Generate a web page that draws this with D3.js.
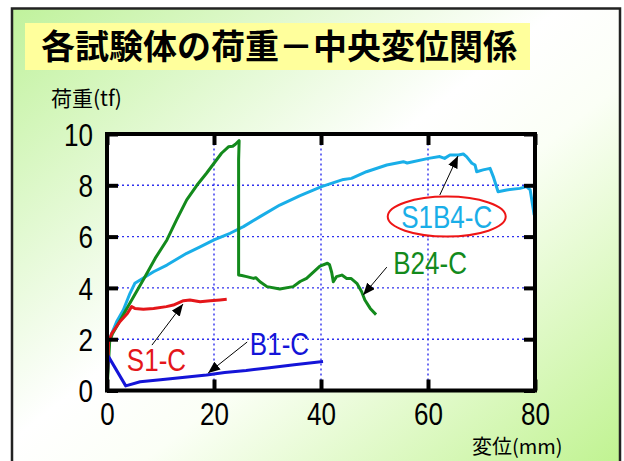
<!DOCTYPE html>
<html><head><meta charset="utf-8">
<script src="https://cdn.jsdelivr.net/npm/d3@7"></script>
<style>html,body{margin:0;padding:0;background:#fff;}svg{display:block;}</style>
</head><body>
<svg id="chart" width="624" height="461"></svg>
<script>
// ---- data ----
const xTicks = [0, 20, 40, 60, 80];
const yTicks = [0, 2, 4, 6, 8, 10];
const titleText = "各試験体の荷重－中央変位関係";
const yTitle = "荷重(tf)";
const xTitle = "変位(mm)";

const seriesNames = ["B24-C", "S1B4-C", "S1-C", "B1-C"];

const b24X = [0, 0.5, 1.0, 2.5, 4.0, 5.5, 7.0, 9.0, 11.2, 13.0, 14.9, 16.8, 18.6, 20.0, 21.4, 22.7, 23.5, 24.0, 24.7, 24.6, 24.6, 25.2, 26.1, 27.4, 27.8, 28.6, 29.9, 32.3, 34.8, 36.1, 37.3, 39.8, 41.2, 41.6, 42.0, 42.3, 42.9, 43.9, 44.8, 45.6, 46.7, 47.6, 48.2, 49.2, 50.1];
const b24Y = [0, 1.9, 2.2, 2.75, 3.3, 3.85, 4.4, 5.15, 5.87, 6.65, 7.43, 8.0, 8.47, 8.86, 9.25, 9.5, 9.52, 9.6, 9.74, 9.0, 4.5, 4.48, 4.44, 4.37, 4.4, 4.24, 4.05, 3.96, 4.05, 4.25, 4.37, 4.85, 4.96, 4.9, 4.6, 4.24, 4.44, 4.5, 4.37, 4.37, 4.18, 3.85, 3.53, 3.2, 3.0];

const s1b4X = [0, 0.3, 0.9, 1.8, 3.05, 4.3, 5.2, 6.2, 8.7, 11.2, 14.9, 17.4, 20, 23, 25.5, 28.6, 32.3, 36.1, 40.1, 44.2, 45.7, 48.5, 52.3, 55.4, 56.1, 60.1, 62.2, 63.1, 64.1, 65.7, 66.6, 67.2, 68.2, 68.8, 69.1, 70.3, 71.6, 72.2, 73.1, 74.7, 77.2, 78.4, 79.1, 79.7, 79.8];
const s1b4Y = [0, 1.9, 2.23, 2.68, 3.14, 3.79, 4.18, 4.31, 4.63, 4.89, 5.35, 5.6, 5.87, 6.13, 6.39, 6.78, 7.23, 7.6, 7.95, 8.23, 8.27, 8.53, 8.79, 8.92, 8.87, 9.05, 9.12, 9.05, 9.18, 9.18, 9.22, 9.12, 8.86, 8.79, 8.53, 8.6, 8.66, 8.34, 7.75, 7.82, 7.88, 7.95, 7.82, 7.04, 6.9];

const s1X = [0, 0.3, 0.9, 2.4, 3.8, 4.6, 5.2, 6.8, 8.7, 11.1, 12.4, 14.3, 15.5, 17.4, 19.3, 21.1, 22.1];
const s1Y = [0, 1.9, 2.23, 2.68, 3.0, 3.27, 3.2, 3.17, 3.2, 3.27, 3.33, 3.5, 3.53, 3.46, 3.5, 3.53, 3.55];

const b1X = [0, 0.2, 3.5, 6.2, 10, 15, 18.6, 22, 26, 30, 35, 40.1];
const b1Y = [0, 1.35, 0.18, 0.34, 0.42, 0.53, 0.6, 0.7, 0.78, 0.88, 1.0, 1.12];

// annotation: label anchor (data coords), arrow start and tip (data coords)
const annLabels = ["S1B4-C", "B24-C", "S1-C", "B1-C"];
const annTextX = [63.5, 53.5, 3.7, 26.7];
const annTextY = [6.78, 4.97, 1.21, 1.81];
const annFromX = [62.2, 52.3, 8.4, 26.2];
const annFromY = [7.62, 4.81, 1.77, 1.89];
const annToX = [65.6, 47.9, 14.2, 18.9];
const annToY = [9.14, 3.72, 3.37, 0.68];

// ---- drawing ----
const colors = {"B24-C": "#138a1c", "S1B4-C": "#19aee8", "S1-C": "#e4161a", "B1-C": "#1414d8"};
const SX = 0.84; // horizontal condensing of the Latin text
const svg = d3.select("#chart");
const defs = svg.append("defs");
const grad = defs.append("linearGradient").attr("id", "bg")
  .attr("x1", 0).attr("y1", 0).attr("x2", 1).attr("y2", 1);
grad.append("stop").attr("offset", "0%").attr("stop-color", "#c0f29c");
grad.append("stop").attr("offset", "45%").attr("stop-color", "#ffffff");
grad.append("stop").attr("offset", "58%").attr("stop-color", "#fbfff6");
grad.append("stop").attr("offset", "100%").attr("stop-color", "#bcf28a");

defs.append("marker").attr("id", "arrow").attr("viewBox", "0 0 12 10")
  .attr("refX", 12).attr("refY", 5).attr("markerWidth", 12).attr("markerHeight", 10)
  .attr("markerUnits", "userSpaceOnUse").attr("orient", "auto")
  .append("path").attr("d", "M0,0 L12,5 L0,10 Z").attr("fill", "#000");

svg.append("rect").attr("x", 0).attr("y", 0).attr("width", 624).attr("height", 461).attr("fill", "#fff");
svg.append("rect").attr("x", 12).attr("y", 8.5).attr("width", 608).attr("height", 480)
  .attr("fill", "url(#bg)").attr("stroke", "#222").attr("stroke-width", 2.5);

// title
svg.append("rect").attr("x", 25).attr("y", 23).attr("width", 505).attr("height", 47).attr("fill", "#ffff9c");
svg.append("text").attr("x", 41).attr("y", 59).text(titleText)
  .attr("font-family", "'Noto Sans CJK JP', sans-serif").attr("font-weight", "bold")
  .attr("font-size", 34).attr("fill", "#000");

const margin = {left: 107, right: 535, top: 134, bottom: 390.5};
const x = d3.scaleLinear().domain([0, 80]).range([margin.left, margin.right]);
const y = d3.scaleLinear().domain([0, 10]).range([margin.bottom, margin.top]);

// plot area
svg.append("rect").attr("x", x(0)).attr("y", y(10)).attr("width", x(80) - x(0)).attr("height", y(0) - y(10))
  .attr("fill", "#fff");

// grid
const grid = svg.append("g");
grid.selectAll("line.gx").data(xTicks.filter(d => d > 0 && d < 80)).join("line")
  .attr("x1", d => x(d)).attr("x2", d => x(d)).attr("y1", y(0)).attr("y2", y(10))
  .attr("stroke", "#3030ee").attr("stroke-width", 1.4).attr("stroke-dasharray", "2,3");
grid.selectAll("line.gy").data(yTicks.filter(d => d > 0 && d < 10)).join("line")
  .attr("class", "gy")
  .attr("x1", x(0)).attr("x2", x(80)).attr("y1", d => y(d)).attr("y2", d => y(d))
  .attr("stroke", "#3030ee").attr("stroke-width", 1.4).attr("stroke-dasharray", "2,3");

// series
const line = d3.line().x(d => x(d[0])).y(d => y(d[1]));
const series = [
  {name: "S1B4-C", xs: s1b4X, ys: s1b4Y},
  {name: "B24-C", xs: b24X, ys: b24Y},
  {name: "S1-C", xs: s1X, ys: s1Y},
  {name: "B1-C", xs: b1X, ys: b1Y}
];
const plot = svg.append("g");
series.forEach(s => {
  plot.append("path").datum(s.xs.map((v, i) => [v, s.ys[i]]))
    .attr("d", line).attr("fill", "none").attr("stroke", colors[s.name])
    .attr("stroke-width", 3).attr("stroke-linejoin", "round").attr("stroke-linecap", "square");
});

// axes with inward ticks
const numFont = "'Liberation Sans', Arial, sans-serif";
const tickLen = 11;
const axB = d3.axisBottom(x).tickValues(xTicks).tickSize(-tickLen).tickPadding(12).tickFormat(d3.format("d"));
const axT = d3.axisTop(x).tickValues(xTicks).tickSize(-tickLen).tickFormat("");
const axL = d3.axisLeft(y).tickValues(yTicks).tickSize(-tickLen).tickPadding(13).tickFormat(d3.format("d"));
const axR = d3.axisRight(y).tickValues(yTicks).tickSize(-tickLen).tickFormat("");
function styleAxis(g) {
  g.select(".domain").remove();
  g.selectAll(".tick line").attr("stroke", "#000").attr("stroke-width", 4);
  g.selectAll(".tick text").attr("font-family", numFont).attr("font-size", 31).attr("fill", "#000");
}
svg.append("g").attr("transform", `translate(0,${y(0)})`).call(axB).call(styleAxis)
  .selectAll(".tick text").attr("dy", "0.72em").attr("transform", `scale(${SX},1)`);
svg.append("g").attr("transform", `translate(0,${y(10)})`).call(axT).call(styleAxis);
svg.append("g").attr("transform", `translate(${x(0)},0)`).call(axL).call(styleAxis)
  .selectAll(".tick text").attr("dy", "0.36em").attr("x", -14 / SX).attr("transform", `scale(${SX},1)`);
svg.append("g").attr("transform", `translate(${x(80)},0)`).call(axR).call(styleAxis);

// frame
svg.append("rect").attr("x", x(0)).attr("y", y(10)).attr("width", x(80) - x(0)).attr("height", y(0) - y(10))
  .attr("fill", "none").attr("stroke", "#000").attr("stroke-width", 4);

// axis titles
svg.append("text").attr("x", 51).attr("y", 106).text(yTitle)
  .attr("font-family", "'Noto Sans CJK JP', sans-serif").attr("font-size", 21).attr("fill", "#000");
svg.append("text").attr("x", 472).attr("y", 454).text(xTitle)
  .attr("font-family", "'Noto Sans CJK JP', sans-serif").attr("font-size", 20).attr("fill", "#000");

// annotations
const ann = svg.append("g");
annLabels.forEach((lab, i) => {
  ann.append("line").attr("x1", x(annFromX[i])).attr("y1", y(annFromY[i]))
    .attr("x2", x(annToX[i])).attr("y2", y(annToY[i]))
    .attr("stroke", "#000").attr("stroke-width", 1).attr("marker-end", "url(#arrow)");
  const isOval = i === 0;
  if (isOval) {
    ann.append("ellipse").attr("cx", x(annTextX[i])).attr("cy", y(annTextY[i]))
      .attr("rx", 59).attr("ry", 20).attr("fill", "#fff").attr("stroke", "#ee1515").attr("stroke-width", 2);
  }
  ann.append("text").text(lab)
    .attr("transform", `translate(${x(annTextX[i])},${y(annTextY[i])}) scale(${SX},1)`)
    .attr("text-anchor", isOval ? "middle" : "start")
    .attr("font-family", numFont).attr("font-size", 31).attr("fill", colors[lab])
    .attr("dy", "0.36em");
});
</script>
</body></html>
